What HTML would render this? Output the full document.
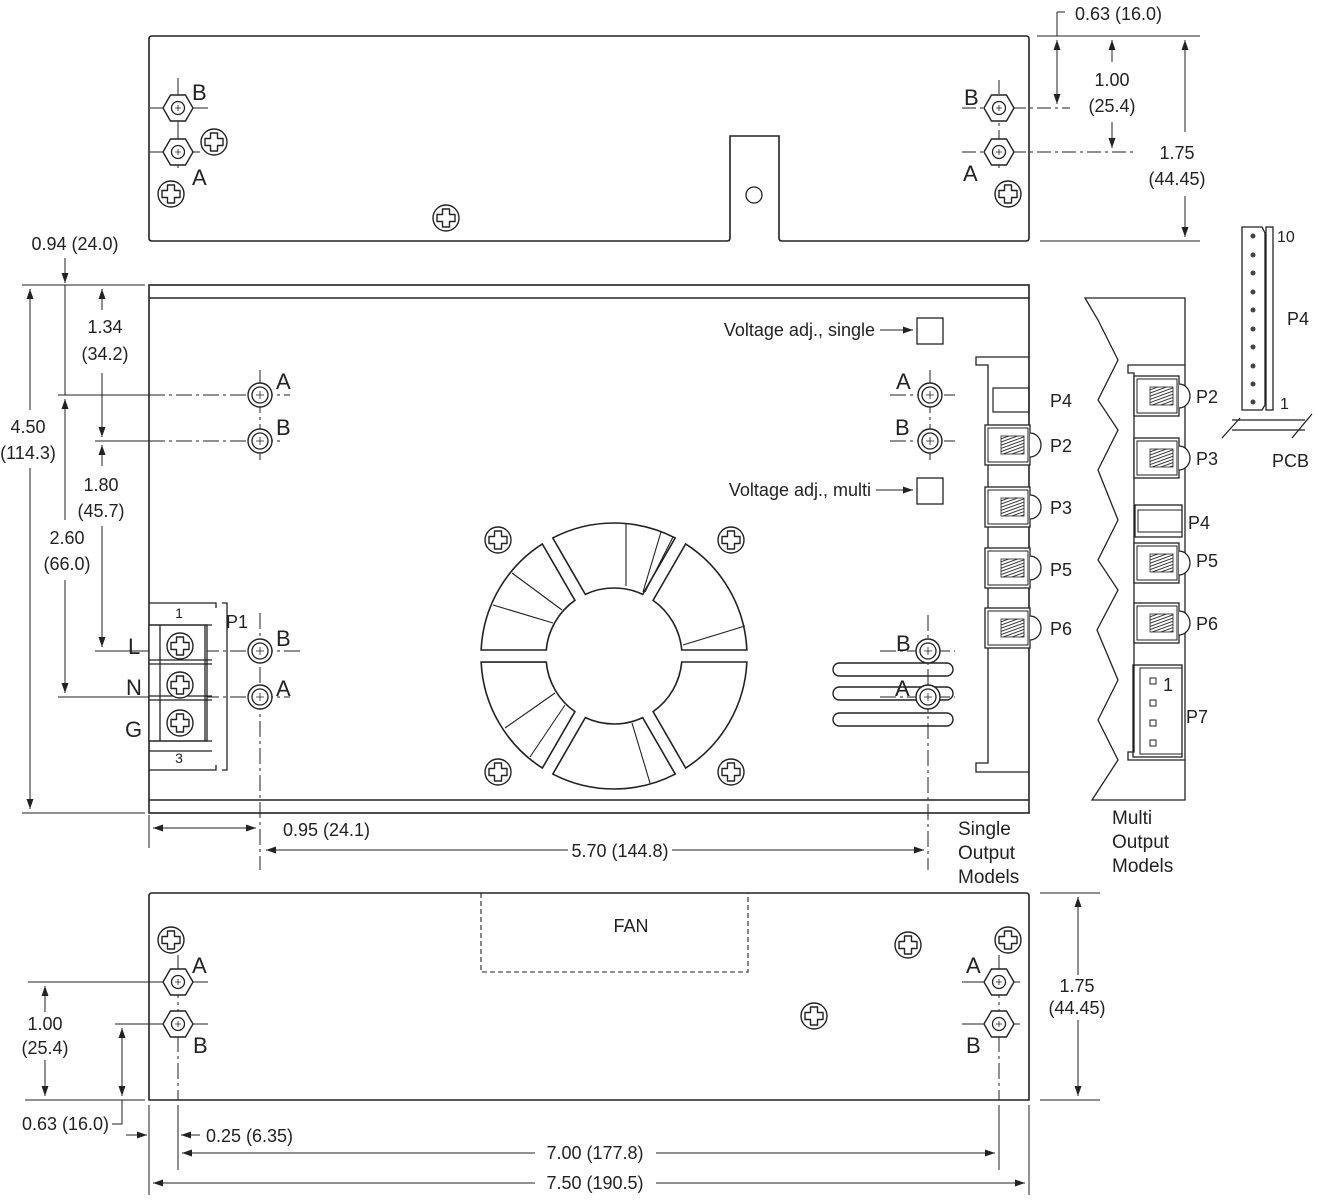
<!DOCTYPE html>
<html><head><meta charset="utf-8"><style>
html,body{margin:0;padding:0;background:#fff;}
svg{display:block;font-family:"Liberation Sans",Arial,sans-serif;}
text{fill:#222;}
</style></head><body>
<svg width="1317" height="1200" viewBox="0 0 1317 1200" xmlns="http://www.w3.org/2000/svg">
<defs>
<marker id="ar" viewBox="0 0 10 10" refX="10" refY="5" markerWidth="10" markerHeight="10" markerUnits="userSpaceOnUse" orient="auto-start-reverse"><path d="M0,1.5 L10,5 L0,8.5 z" fill="#222"/></marker>
<g id="scr"><circle r="13" fill="#fff" stroke="#222" stroke-width="1.4"/><path d="M-3.5,-9 h7 v5.5 h5.5 v7 h-5.5 v5.5 h-7 v-5.5 h-5.5 v-7 h5.5 z" fill="none" stroke="#222" stroke-width="1.4" stroke-linejoin="round"/></g>
<g id="nut"><polygon points="-15,0 -7.5,-13 7.5,-13 15,0 7.5,13 -7.5,13" fill="#fff" stroke="#222" stroke-width="1.4"/><circle r="6.5" fill="none" stroke="#222" stroke-width="1.3"/><path d="M0,-3V3M-3,0H3" stroke="#222" stroke-width="0.8"/></g>
<g id="ring"><circle r="12" fill="#fff" stroke="#222" stroke-width="1.4"/><circle r="8" fill="none" stroke="#222" stroke-width="1.3"/><path d="M0,-4V4M-4,0H4" stroke="#222" stroke-width="0.8"/></g>
<path id="sec" d="M67.73,6 L132.86,6 A133 133 0 0 1 71.66,112.04 L39.06,55.66 A68 68 0 0 0 67.73,6 Z" fill="#fff" stroke="#222" stroke-width="1.6"/>
<pattern id="hatch" width="3" height="3" patternUnits="userSpaceOnUse" patternTransform="rotate(70)"><rect width="3" height="3" fill="#fff"/><line x1="0" y1="0" x2="0" y2="3" stroke="#222" stroke-width="1.8"/></pattern>
<g id="conn"><rect x="0" y="0" width="45" height="40" fill="#fff" stroke="#222" stroke-width="1.3"/><rect x="3" y="3" width="40" height="34" fill="none" stroke="#222" stroke-width="1"/><rect x="16" y="11" width="23" height="18" fill="url(#hatch)" stroke="#222" stroke-width="0.8"/><path d="M45,8 a11,12 0 0 1 0,24" fill="#fff" stroke="#222" stroke-width="1.3"/></g>
</defs>

<g stroke="#222" stroke-width="1.3" fill="none">
<!-- ===== TOP VIEW ===== -->
<path d="M149,39 q0,-3 3,-3 H1026 q3,0 3,3 V238 q0,3 -3,3 H782 q-3,0 -3,-3 V136 H730 V238 q0,3 -3,3 H152 q-3,0 -3,-3 Z" stroke-width="1.6"/>
<circle cx="754" cy="195" r="8"/>
<path d="M178,78V168 M150,108H208 M150,152H200" stroke-width="1"/>
<path d="M999,80V168 M962,108H1070 M962,152H1135" stroke-width="1" stroke-dasharray="14,4,3,4"/>
<path d="M1037,36H1200 M1040,241H1200" stroke-width="1"/>
<path d="M1057,12H1065 M1057,12V36" stroke-width="1"/>
<path d="M1057,40V104" stroke-width="1" marker-start="url(#ar)" marker-end="url(#ar)"/>
<path d="M1112,62V40" stroke-width="1" marker-end="url(#ar)"/>
<path d="M1112,122V148" stroke-width="1" marker-end="url(#ar)"/>
<path d="M1185,132V40" stroke-width="1" marker-end="url(#ar)"/>
<path d="M1185,196V237" stroke-width="1" marker-end="url(#ar)"/>

<!-- ===== MAIN VIEW ===== -->
<rect x="149" y="285" width="880" height="528" stroke-width="1.6"/>
<path d="M149,298H1029 M149,800H1029" stroke-width="1.6"/>
<path d="M22,285H145 M22,813H145" stroke-width="1"/>
<path d="M30,410V289" stroke-width="1" marker-end="url(#ar)"/>
<path d="M30,468V809" stroke-width="1" marker-end="url(#ar)"/>
<path d="M65,258V283" stroke-width="1" marker-end="url(#ar)"/>
<path d="M65,285V395" stroke-width="1"/>
<path d="M65,520V399" stroke-width="1" marker-end="url(#ar)"/>
<path d="M65,580V693" stroke-width="1" marker-end="url(#ar)"/>
<path d="M102,310V289" stroke-width="1" marker-end="url(#ar)"/>
<path d="M102,373V437" stroke-width="1" marker-end="url(#ar)"/>
<path d="M102,466V445" stroke-width="1" marker-end="url(#ar)"/>
<path d="M102,526V647" stroke-width="1" marker-end="url(#ar)"/>
<path d="M58,395H149 M95,441H149 M95,651H149 M58,697H149" stroke-width="1"/>
<path d="M149,395H290 M149,441H280 M149,651H300 M149,697H290 M260,370V460 M260,613V870" stroke-width="1" stroke-dasharray="16,4,3,4"/>
<path d="M890,395H955 M890,441H955 M880,651H955 M880,697H955 M930,370V460 M928,615V870" stroke-width="1" stroke-dasharray="16,4,3,4"/>
<path d="M149,603H216 V608 M149,770H216 V765" stroke-width="1.3"/>
<path d="M222,603h5v167h-5" stroke-width="1.3"/>
<rect x="149" y="625" width="58" height="116" fill="#fff"/>
<path d="M149,625H212 M149,660H212 M149,664H212 M149,696H212 M149,700H212 M149,741H212 M149,751H212 M205,625V741 M160,625V741" stroke-width="1.3"/>
</g>
<use href="#scr" x="180" y="646"/><use href="#scr" x="180" y="685"/><use href="#scr" x="180" y="723"/>
<use href="#ring" x="260" y="395"/><use href="#ring" x="260" y="441"/><use href="#ring" x="260" y="651"/><use href="#ring" x="260" y="697"/>

<g stroke="#222" stroke-width="1.4" fill="none">
<rect x="833" y="663" width="120" height="13" rx="6.5"/>
<rect x="833" y="687" width="120" height="13" rx="6.5"/>
<rect x="833" y="713" width="120" height="13" rx="6.5"/>
</g>
<use href="#ring" x="930" y="395"/><use href="#ring" x="930" y="441"/><use href="#ring" x="928" y="651"/><use href="#ring" x="928" y="697"/>

<g stroke="#222" stroke-width="1.3" fill="none">
<rect x="917" y="318" width="26" height="26"/>
<rect x="917" y="478" width="26" height="26"/>
<path d="M880,330H913" stroke-width="1" marker-end="url(#ar)"/>
<path d="M876,490H913" stroke-width="1" marker-end="url(#ar)"/>
<path d="M1029,357H976V365H988V763H976V772H1029" stroke-width="1.3"/>
<rect x="993" y="388" width="36" height="24" stroke-width="1.2"/>
</g>
<use href="#conn" x="985" y="425"/><use href="#conn" x="985" y="487"/><use href="#conn" x="985" y="548"/><use href="#conn" x="985" y="608"/>

<!-- fan -->
<g transform="translate(614,656)">
<use href="#sec"/><use href="#sec" transform="rotate(60)"/><use href="#sec" transform="rotate(120)"/><use href="#sec" transform="rotate(180)"/><use href="#sec" transform="rotate(240)"/><use href="#sec" transform="rotate(300)"/>
<g stroke="#222" stroke-width="1.1">
<path d="M12,-133V-70 M47,-124L29,-64 M59,-119L31,-64 M131,-30L69,-11 M-102,-83L-52,-46 M-121,-51L-61,-33 M-109,72L-59,37 M-84,101L-49,49 M18,67L36,127"/>
</g>
</g>
<use href="#scr" x="498" y="540"/><use href="#scr" x="731" y="540"/><use href="#scr" x="498" y="772"/><use href="#scr" x="731" y="772"/>

<!-- multi output -->
<g stroke="#222" stroke-width="1.3" fill="none">
<path d="M1085,298H1185V800H1092 L1118,760 L1098,720 L1118,680 L1097,630 L1118,590 L1098,560 L1118,520 L1098,470 L1118,430 L1098,400 L1118,360 L1098,320 Z" fill="#fff"/>
<path d="M1185,365H1128V373H1134V752H1128V760H1185"/>
<rect x="1135" y="505" width="47" height="32"/>
<rect x="1138" y="510" width="44" height="22" stroke-width="1"/>
<rect x="1133" y="665" width="49" height="92"/>
<rect x="1140" y="668" width="42" height="86" stroke-width="1"/>
<rect x="1150" y="678" width="6" height="6" stroke-width="1"/><rect x="1150" y="700" width="6" height="6" stroke-width="1"/><rect x="1150" y="720" width="6" height="6" stroke-width="1"/><rect x="1150" y="740" width="6" height="6" stroke-width="1"/>
</g>
<use href="#conn" x="1134" y="376"/><use href="#conn" x="1134" y="438"/><use href="#conn" x="1134" y="543"/><use href="#conn" x="1134" y="603"/>

<!-- P4 side -->
<g stroke="#222" stroke-width="1.3" fill="none">
<path d="M1242,227H1262 L1265,233 V405 L1262,410 H1242 Z"/>
<rect x="1266" y="227" width="7" height="183"/>
<path d="M1232,420H1305 M1232,430H1305 M1222,438L1240,418 M1292,438L1312,414"/>
</g>
<g fill="#444">
<circle cx="1253" cy="236" r="2.5"/><circle cx="1253" cy="255" r="2.5"/><circle cx="1253" cy="273" r="2.5"/><circle cx="1253" cy="292" r="2.5"/><circle cx="1253" cy="310" r="2.5"/><circle cx="1253" cy="329" r="2.5"/><circle cx="1253" cy="347" r="2.5"/><circle cx="1253" cy="366" r="2.5"/><circle cx="1253" cy="384" r="2.5"/><circle cx="1253" cy="402" r="2.5"/>
</g>

<g stroke="#222" stroke-width="1" fill="none">
<path d="M149,815V848"/>
<path d="M153,828H256" marker-start="url(#ar)" marker-end="url(#ar)"/>
<path d="M568,850H266" marker-end="url(#ar)"/>
<path d="M672,850H924" marker-end="url(#ar)"/>
</g>

<!-- ===== BOTTOM VIEW ===== -->
<g stroke="#222" stroke-width="1.3" fill="none">
<path d="M149,896 q0,-3 3,-3 H1026 q3,0 3,3 V1100 H149 Z" stroke-width="1.6"/>
<path d="M481,893V972H748V893" stroke-dasharray="5,3" stroke-width="1.1"/>
<path d="M178,955V1100 M999,955V1100" stroke-width="1" stroke-dasharray="16,4,3,4"/>
<path d="M28,982H208 M115,1024H208 M962,982H1020 M962,1024H1020 M25,1100H145" stroke-width="1"/>
<path d="M45,1012V986" stroke-width="1" marker-end="url(#ar)"/>
<path d="M45,1060V1096" stroke-width="1" marker-end="url(#ar)"/>
<path d="M122,1028V1096" stroke-width="1" marker-start="url(#ar)" marker-end="url(#ar)"/>
<path d="M122,1100V1124H112" stroke-width="1"/>
<path d="M1040,893H1100 M1040,1100H1100" stroke-width="1"/>
<path d="M1078,975V897" stroke-width="1" marker-end="url(#ar)"/>
<path d="M1078,1020V1096" stroke-width="1" marker-end="url(#ar)"/>
<path d="M149,1105V1195 M178,1105V1170 M999,1105V1170 M1029,1105V1195" stroke-width="1"/>
<path d="M126,1135H147" stroke-width="1" marker-end="url(#ar)"/>
<path d="M200,1135H181" stroke-width="1" marker-end="url(#ar)"/>
<path d="M535,1153H182" stroke-width="1" marker-end="url(#ar)"/>
<path d="M656,1153H995" stroke-width="1" marker-end="url(#ar)"/>
<path d="M535,1183H153" stroke-width="1" marker-end="url(#ar)"/>
<path d="M656,1183H1025" stroke-width="1" marker-end="url(#ar)"/>
</g>

<use href="#nut" x="178" y="108"/><use href="#nut" x="178" y="152"/><use href="#nut" x="999" y="108"/><use href="#nut" x="999" y="152"/>
<use href="#scr" x="214" y="142"/><use href="#scr" x="171" y="194"/><use href="#scr" x="446" y="218"/><use href="#scr" x="1008" y="194"/>
<use href="#nut" x="178" y="982"/><use href="#nut" x="178" y="1024"/><use href="#nut" x="999" y="982"/><use href="#nut" x="999" y="1024"/>
<use href="#scr" x="171" y="940"/><use href="#scr" x="908" y="945"/><use href="#scr" x="814" y="1016"/><use href="#scr" x="1008" y="940"/>

<!-- ===== TEXT ===== -->
<g font-size="22">
<text x="192" y="100">B</text><text x="192" y="185">A</text>
<text x="964" y="105">B</text><text x="963" y="181">A</text>
<text x="276" y="389">A</text><text x="276" y="435">B</text>
<text x="896" y="389">A</text><text x="895" y="435">B</text>
<text x="276" y="646">B</text><text x="276" y="696">A</text>
<text x="896" y="651">B</text><text x="895" y="696">A</text>
<text x="128" y="654">L</text><text x="126" y="695">N</text><text x="125" y="737">G</text>
<text x="192" y="973">A</text><text x="193" y="1053">B</text>
<text x="966" y="973">A</text><text x="966" y="1053">B</text>
</g>
<g font-size="18">
<text x="1075" y="20">0.63 (16.0)</text>
<text x="1112" y="86" text-anchor="middle">1.00</text><text x="1112" y="112" text-anchor="middle">(25.4)</text>
<text x="1177" y="159" text-anchor="middle">1.75</text><text x="1177" y="185" text-anchor="middle">(44.45)</text>
<text x="75" y="250" text-anchor="middle">0.94 (24.0)</text>
<text x="28" y="433" text-anchor="middle">4.50</text><text x="28" y="459" text-anchor="middle">(114.3)</text>
<text x="105" y="333" text-anchor="middle">1.34</text><text x="105" y="360" text-anchor="middle">(34.2)</text>
<text x="101" y="491" text-anchor="middle">1.80</text><text x="101" y="517" text-anchor="middle">(45.7)</text>
<text x="67" y="544" text-anchor="middle">2.60</text><text x="67" y="570" text-anchor="middle">(66.0)</text>
<text x="875" y="336" text-anchor="end">Voltage adj., single</text>
<text x="871" y="496" text-anchor="end">Voltage adj., multi</text>
<text x="283" y="836">0.95 (24.1)</text>
<text x="620" y="857" text-anchor="middle">5.70 (144.8)</text>
<text x="631" y="932" text-anchor="middle">FAN</text>
<text x="45" y="1030" text-anchor="middle">1.00</text><text x="45" y="1054" text-anchor="middle">(25.4)</text>
<text x="22" y="1130">0.63 (16.0)</text>
<text x="1077" y="992" text-anchor="middle">1.75</text><text x="1077" y="1014" text-anchor="middle">(44.45)</text>
<text x="206" y="1142">0.25 (6.35)</text>
<text x="595" y="1159" text-anchor="middle">7.00 (177.8)</text>
<text x="595" y="1189" text-anchor="middle">7.50 (190.5)</text>
<text x="1050" y="407">P4</text><text x="1050" y="452">P2</text><text x="1050" y="514">P3</text><text x="1050" y="576">P5</text><text x="1050" y="635">P6</text>
<text x="1196" y="403">P2</text><text x="1196" y="465">P3</text><text x="1188" y="529">P4</text><text x="1196" y="567">P5</text><text x="1196" y="630">P6</text><text x="1186" y="723">P7</text>
<text x="1163" y="691">1</text>
<text x="1287" y="325">P4</text><text x="1277" y="242" font-size="16">10</text><text x="1280" y="409" font-size="16">1</text>
<text x="1272" y="467">PCB</text>
<text x="226" y="628">P1</text>
<text x="179" y="618" text-anchor="middle" font-size="14">1</text>
<text x="179" y="763" text-anchor="middle" font-size="14">3</text>
</g>
<g font-size="19">
<text x="958" y="835">Single</text><text x="958" y="859">Output</text><text x="958" y="883">Models</text>
<text x="1112" y="824">Multi</text><text x="1112" y="848">Output</text><text x="1112" y="872">Models</text>
</g>
</svg>
</body></html>
